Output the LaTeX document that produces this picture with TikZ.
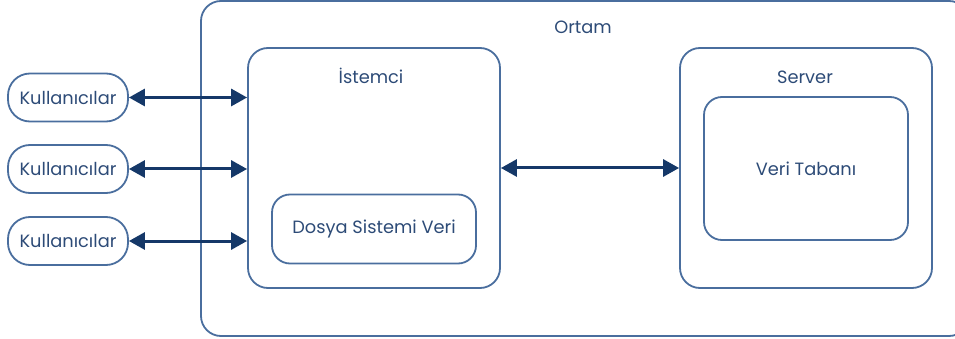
\documentclass[tikz,border=0pt]{standalone}
\usepackage{fontspec}
\setmainfont{Poppins}
\usetikzlibrary{arrows.meta,positioning}

\definecolor{boxblue}{HTML}{4A6E9E}
\definecolor{navy}{HTML}{153868}
\definecolor{txtblue}{HTML}{2D4B77}

\tikzset{
  frame/.style={draw=boxblue, line width=1.8pt, rounded corners=20pt, inner sep=0pt},
  inbox/.style={draw=boxblue, line width=1.8pt, rounded corners=18pt, inner sep=0pt, text=txtblue, font=\fontsize{17.8}{20}\selectfont},
  pill/.style={draw=boxblue, line width=1.8pt, rounded corners=22pt, inner sep=0pt,
    minimum width=120pt, minimum height=48pt, text=txtblue, font=\fontsize{17.8}{20}\selectfont},
  lbl/.style={text=txtblue, font=\fontsize{17.8}{20}\selectfont},
  link/.style={draw=navy, line width=3pt, {Triangle[length=16pt,width=17pt]}-{Triangle[length=16pt,width=17pt]}}
}

\begin{document}
\begin{tikzpicture}[x=1pt,y=-1pt]
\clip (0,0) rectangle (955,339);

% outer frame
\node[frame, minimum width=768pt, minimum height=335pt] (ortam) at (585,168.5) {};
\node[lbl] (ortamlbl) at (583,27) {Ortam};

% client side
\node[frame, minimum width=252pt, minimum height=240pt] (istemci) at (374,168) {};
\node[lbl] (istemcilbl) at (371,76) {İstemci};
\node[inbox, minimum width=204pt, minimum height=69pt] (dosya) at (374,229) {Dosya Sistemi Veri};

% server side
\node[frame, minimum width=252pt, minimum height=240pt] (server) at (806,168) {};
\node[lbl] (serverlbl) at (805,77) {Server};
\node[inbox, minimum width=204pt, minimum height=143pt] (veritabani) at (806,168.5) {Veri Tabanı};

% users
\node[pill] (kul1) at (68,97.5) {Kullanıcılar};
\node[pill] (kul2) at (68,169) {Kullanıcılar};
\node[pill] (kul3) at (68,241) {Kullanıcılar};

% connections
\draw[link] (kul1.east) -- (kul1.east -| istemci.west);
\draw[link] (kul2.east) -- (kul2.east -| istemci.west);
\draw[link] (kul3.east) -- (kul3.east -| istemci.west);
\draw[link] (istemci.east) -- (server.west);

\end{tikzpicture}
\end{document}
